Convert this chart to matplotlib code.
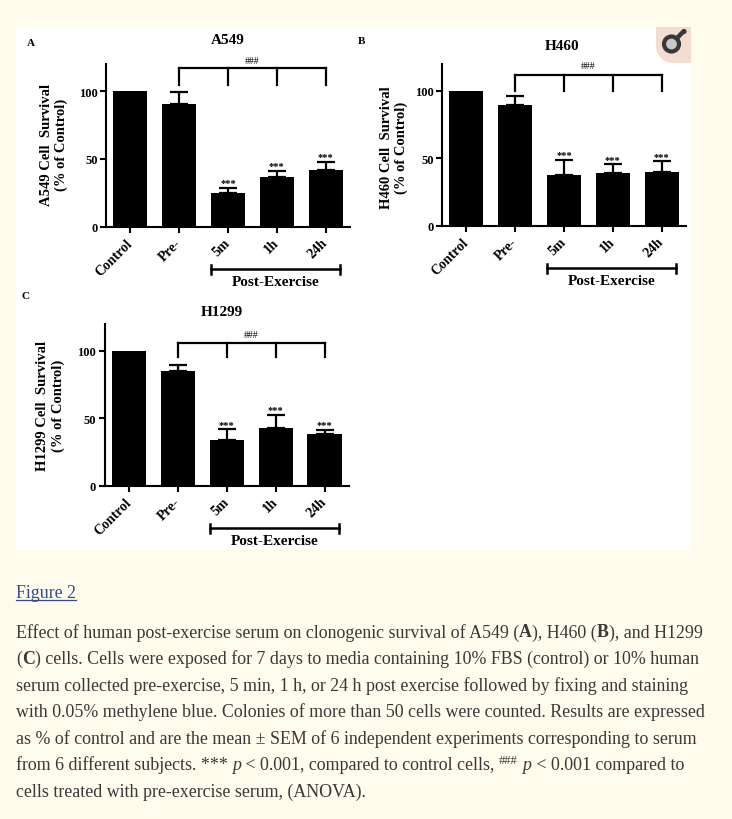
import numpy as np
import matplotlib
matplotlib.use('Agg')
import matplotlib.pyplot as plt
from matplotlib.patches import Rectangle, Circle, Polygon

# bar groups
groups = ['Control', 'Pre-', '5m', '1h', '24h']

# % of control, mean and SEM
a549_mean = [100, 90.5, 25.1, 36.7, 41.9]
a549_sem = [0, 9.3, 3.7, 4.4, 5.9]
h460_mean = [100, 89.6, 37.8, 38.8, 39.5]
h460_sem = [0, 6.2, 10.8, 6.6, 8.2]
h1299_mean = [100, 84.7, 34.1, 42.5, 38.3]
h1299_sem = [0, 4.9, 7.6, 9.8, 2.9]

# significance bracket vs pre-exercise: (bar level, tick bottom, ### level)
a549_bracket = (117.2, 104.9, 123.0)
h460_bracket = (111.6, 100.0, 118.5)
h1299_bracket = (105.9, 95.0, 112.3)

caption_lines = [
    [("Effect of human post-exercise serum on clonogenic survival of A549 (", 'n'), ("A", 'b'),
     ("), H460 (", 'n'), ("B", 'b'), ("), and H1299", 'n')],
    [("(", 'n'), ("C", 'b'), (") cells. Cells were exposed for 7 days to media containing 10% FBS (control) or 10% human", 'n')],
    [("serum collected pre-exercise, 5 min, 1 h, or 24 h post exercise followed by fixing and staining", 'n')],
    [("with 0.05% methylene blue. Colonies of more than 50 cells were counted. Results are expressed", 'n')],
    [("as % of control and are the mean \u00b1 SEM of 6 independent experiments corresponding to serum", 'n')],
    [("from 6 different subjects. *** ", 'n'), ("p", 'i'), (" < 0.001, compared to control cells, ", 'n'),
     ("###", 's'), (" ", 'n'), ("p", 'i'), (" < 0.001 compared to", 'n')],
    [("cells treated with pre-exercise serum, (ANOVA).", 'n')],
]

W, H = 732, 820
SERIF = 'Liberation Serif'
PAGE = '#fffcee'

fig = plt.figure(figsize=(W / 100, H / 100), dpi=100, facecolor=PAGE)

# full-figure overlay in pixel coordinates for page decoration and captions
bg = fig.add_axes([0, 0, 1, 1], zorder=-1)
bg.set_xlim(0, W)
bg.set_ylim(H, 0)
bg.axis('off')
bg.add_patch(Rectangle((16, 28), 675, 523, facecolor='white', edgecolor='none'))

# magnifier badge in the corner
q = np.linspace(0, np.pi / 2, 20)
badge = np.vstack([[[656, 28], [691, 28], [691, 64], [673, 64]],
                   np.column_stack([673 - 17 * np.sin(q), 47 + 17 * np.cos(q)])])
bg.add_patch(Polygon(badge, closed=True, facecolor='#f3ddd0', edgecolor='none'))
bg.add_patch(Circle((671.5, 45), 7.5, facecolor='#c9c9c9', edgecolor='#383838', lw=3))
bg.plot([676.5, 683], [39.5, 33], color='#383838', lw=3.2, solid_capstyle='round')
bg.add_patch(Circle((684, 32.5), 2.6, facecolor='#383838', edgecolor='none'))


def px_axes(left, right, top, bottom):
    return fig.add_axes([left / W, 1 - bottom / H, (right - left) / W, (bottom - top) / H])


def draw_panel(ax, means, sems, bracket):
    x = np.arange(len(groups))
    ax.set_facecolor('none')
    ax.bar(x, means, width=0.7, color='black', zorder=2)
    lower = np.zeros(len(sems))
    ax.errorbar(x[1:], means[1:], yerr=[lower[1:], sems[1:]], fmt='none', ecolor='black',
                elinewidth=1.6, capsize=6.5, capthick=1.6, zorder=1)
    ax.set_xlim(-0.5, 4.5)
    ax.set_ylim(0, 120)
    for s in ['top', 'right']:
        ax.spines[s].set_visible(False)
    for s in ['left', 'bottom']:
        ax.spines[s].set_linewidth(1.5)
    ax.set_yticks([0, 50, 100])
    ax.set_xticks(x)
    ax.set_xticklabels(groups, rotation=45, ha='right', va='center', rotation_mode='anchor',
                       fontsize=10, fontweight='bold', family=SERIF)
    for lab in ax.get_yticklabels():
        lab.set_fontsize(9)
        lab.set_fontweight('bold')
        lab.set_family(SERIF)
    ax.tick_params(axis='both', length=4, width=1.5, pad=2)
    ax.tick_params(axis='x', pad=6)

    # *** above post-exercise bars
    for i in range(2, 5):
        ax.text(x[i], means[i] + sems[i] + 2, '***', ha='center', va='baseline',
                fontsize=7.5, family=SERIF, fontweight='bold')

    # ### bracket vs Pre-
    top, low, hy = bracket
    ax.plot([x[1], x[4]], [top, top], color='black', lw=1.6, clip_on=False, solid_capstyle='projecting')
    for i in range(1, 5):
        ax.plot([x[i], x[i]], [top, low], color='black', lw=1.6, clip_on=False)
    ax.text((x[1] + x[4]) / 2, hy, '###', ha='center', va='center', fontsize=7,
            family=SERIF, clip_on=False)

    # post-exercise bracket under the axis
    yb = -31.5
    ax.plot([1.65, 4.3], [yb, yb], color='black', lw=1.8, clip_on=False)
    for xe in (1.65, 4.3):
        ax.plot([xe, xe], [yb - 3.5, yb + 3.5], color='black', lw=1.8, clip_on=False)
    ax.text(2.97, yb - 4.5, 'Post-Exercise', ha='center', va='top', fontsize=11,
            fontweight='bold', family=SERIF, clip_on=False)


ax_a = px_axes(106, 350, 65.2, 227.7)
ax_b = px_axes(442, 686, 64.7, 226.7)
ax_c = px_axes(104.5, 349, 324.7, 486.7)
draw_panel(ax_a, a549_mean, a549_sem, a549_bracket)
draw_panel(ax_b, h460_mean, h460_sem, h460_bracket)
draw_panel(ax_c, h1299_mean, h1299_sem, h1299_bracket)

bold = dict(family=SERIF, fontweight='bold', color='black')
# panel letters
bg.text(31, 43, 'A', fontsize=8, ha='center', va='center', **bold)
bg.text(362, 42, 'B', fontsize=8, ha='center', va='center', **bold)
bg.text(26, 297, 'C', fontsize=8, ha='center', va='center', **bold)
# titles
bg.text(228, 41, 'A549', fontsize=11, ha='center', va='center', **bold)
bg.text(562, 46, 'H460', fontsize=11, ha='center', va='center', **bold)
bg.text(222, 313, 'H1299', fontsize=11, ha='center', va='center', **bold)
# y labels
for xx, yy, name in [(46, 145, 'A549'), (386, 148, 'H460'), (43, 406, 'H1299')]:
    bg.text(xx, yy, name + ' Cell  Survival', fontsize=10.5, rotation=90,
            ha='center', va='center', **bold)
    bg.text(xx + 15, yy, '(% of Control)', fontsize=10.5, rotation=90,
            ha='center', va='center', **bold)

# caption
renderer = fig.canvas.get_renderer()
TXT = '#383838'


def advance(s, **kw):
    t1 = bg.text(0, 0, s + '|', **kw)
    t2 = bg.text(0, 0, '|', **kw)
    w = t1.get_window_extent(renderer).width - t2.get_window_extent(renderer).width
    t1.remove()
    t2.remove()
    return w


def seg_style(kind, size):
    if kind == 'b':
        return dict(family=SERIF, fontsize=size, fontweight='bold', color=TXT)
    if kind == 'i':
        return dict(family=SERIF, fontsize=size, style='italic', color=TXT)
    if kind == 's':
        return dict(family=SERIF, fontsize=size * 0.7, color=TXT)
    return dict(family=SERIF, fontsize=size, color=TXT)


# fit the caption size so that the first line spans the text column
base = 12
w1 = sum(advance(s, **seg_style(k, base)) for s, k in caption_lines[0])
size = base * 684 / w1

fig2 = bg.text(16, 598, 'Figure 2', family=SERIF, fontsize=size, color='#2f4d8c', va='baseline')
fw = fig2.get_window_extent(renderer).width
bg.plot([16, 16 + fw], [601, 601], color='#2f4d8c', lw=0.9)

for li, line in enumerate(caption_lines):
    xx = 16
    yy = 637.5 + li * 26.6
    for s, k in line:
        st = seg_style(k, size)
        dy = -6 if k == 's' else 0
        bg.text(xx, yy + dy, s, va='baseline', **st)
        xx += advance(s, **st)

fig.savefig('out.png', dpi=100, facecolor=PAGE)
